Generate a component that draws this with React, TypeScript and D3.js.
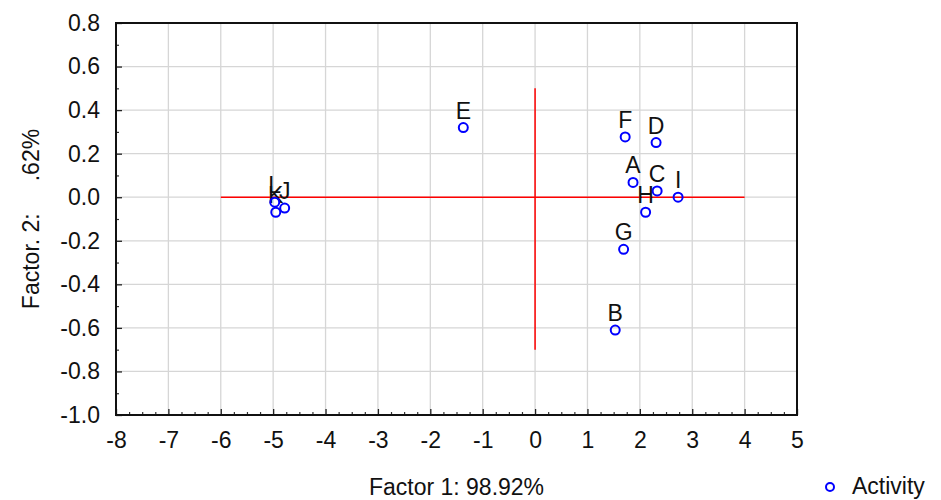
import { axisBottom, axisLeft, scaleLinear, select, range } from "d3";
import { useEffect, useRef } from "react";

const labels = ["A", "B", "C", "D", "E", "F", "G", "H", "I", "J", "K", "L"];
const factor1 = [1.87, 1.53, 2.33, 2.31, -1.37, 1.72, 1.69, 2.11, 2.73, -4.78, -4.95, -4.97];
const factor2 = [0.068, -0.61, 0.029, 0.251, 0.32, 0.277, -0.239, -0.069, 0.0, -0.05, -0.069, -0.023];

const xTicks = range(-8, 6, 1);
const yTicks = [-1.0, -0.8, -0.6, -0.4, -0.2, 0.0, 0.2, 0.4, 0.6, 0.8];
const xMinor = range(-8, 5.01, 0.25).filter((v) => Math.abs(v - Math.round(v)) > 0.01);
const yMinor = range(-0.9, 0.8, 0.2);

// red cross through origin
const hLine = [-6, 4];
const vLine = [-0.7, 0.5];

const font = "'Liberation Sans', Arial, sans-serif";
const fs = 23;

const App = () => {
  const width = 941;
  const height = 500;
  const left = 116;
  const right = 797;
  const top = 23;
  const bottom = 415;

  const x = scaleLinear().domain([-8, 5]).range([left, right]);
  const y = scaleLinear().domain([-1, 0.8]).range([bottom, top]);

  const xRef = useRef<SVGGElement>(null);
  const yRef = useRef<SVGGElement>(null);
  const xMinorRef = useRef<SVGGElement>(null);
  const yMinorRef = useRef<SVGGElement>(null);

  useEffect(() => {
    if (xRef.current) {
      const g = select(xRef.current);
      g.call(
        axisBottom(x)
          .tickValues(xTicks)
          .tickSize(-6)
          .tickPadding(17)
          .tickFormat((d) => String(d))
      );
      g.select(".domain").remove();
      g.selectAll("line").attr("stroke", "#222").attr("stroke-width", 1.3);
      g.selectAll("text")
        .attr("font-family", font)
        .attr("font-size", fs)
        .attr("fill", "#111");
    }
    if (yRef.current) {
      const g = select(yRef.current);
      g.call(
        axisLeft(y)
          .tickValues(yTicks)
          .tickSize(-6)
          .tickPadding(16)
          .tickFormat((d) => (d as number).toFixed(1))
      );
      g.select(".domain").remove();
      g.selectAll("line").attr("stroke", "#222").attr("stroke-width", 1.3);
      g.selectAll("text")
        .attr("font-family", font)
        .attr("font-size", fs)
        .attr("fill", "#111");
    }
    if (xMinorRef.current) {
      const g = select(xMinorRef.current);
      g.call(axisBottom(x).tickValues(xMinor).tickSize(-3).tickFormat(() => ""));
      g.select(".domain").remove();
      g.selectAll("line").attr("stroke", "#333").attr("stroke-width", 1.2);
    }
    if (yMinorRef.current) {
      const g = select(yMinorRef.current);
      g.call(axisLeft(y).tickValues(yMinor).tickSize(-3).tickFormat(() => ""));
      g.select(".domain").remove();
      g.selectAll("line").attr("stroke", "#333").attr("stroke-width", 1.2);
    }
  }, []);

  return (
    <svg
      width={width}
      height={height}
      style={{ position: "absolute", left: 0, top: 0, background: "#fff" }}
    >
      {/* grid */}
      <g stroke="#d6d6d6" strokeWidth={1.3}>
        {xTicks.map((t) => (
          <line key={`gx${t}`} x1={x(t)} x2={x(t)} y1={top} y2={bottom} />
        ))}
        {yTicks.map((t) => (
          <line key={`gy${t}`} x1={left} x2={right} y1={y(t)} y2={y(t)} />
        ))}
      </g>

      <g stroke="#ff0000" strokeWidth={1.5}>
        <line x1={x(hLine[0])} x2={x(hLine[1])} y1={y(0)} y2={y(0)} />
        <line x1={x(0)} x2={x(0)} y1={y(vLine[0])} y2={y(vLine[1])} />
      </g>

      <g ref={xMinorRef} transform={`translate(0,${bottom})`} />
      <g ref={yMinorRef} transform={`translate(${left},0)`} />
      <g ref={xRef} transform={`translate(0,${bottom})`} />
      <g ref={yRef} transform={`translate(${left},0)`} />

      <rect
        x={left}
        y={top}
        width={right - left}
        height={bottom - top}
        fill="none"
        stroke="#111"
        strokeWidth={2}
      />

      {/* points */}
      {labels.map((lab, i) => (
        <g key={lab}>
          <circle
            cx={x(factor1[i])}
            cy={y(factor2[i])}
            r={4.5}
            fill="none"
            stroke="#0000ff"
            strokeWidth={2}
          />
          <text
            x={x(factor1[i])}
            y={y(factor2[i]) - 9}
            textAnchor="middle"
            fontFamily={font}
            fontSize={fs}
            fill="#111"
          >
            {lab}
          </text>
        </g>
      ))}

      <text
        x={(left + right) / 2}
        y={495}
        textAnchor="middle"
        fontFamily={font}
        fontSize={fs}
        fill="#111"
      >
        Factor 1: 98.92%
      </text>
      <text
        transform={`translate(39,${(top + bottom) / 2}) rotate(-90)`}
        textAnchor="middle"
        fontFamily={font}
        fontSize={fs}
        fill="#111"
        style={{ whiteSpace: "pre" }}
      >
        {"Factor. 2:     .62%"}
      </text>

      <circle cx={830} cy={487} r={4} fill="none" stroke="#0000ff" strokeWidth={2} />
      <text x={852} y={494} fontFamily={font} fontSize={fs} fill="#111">
        Activity
      </text>
    </svg>
  );
};

export default App;
